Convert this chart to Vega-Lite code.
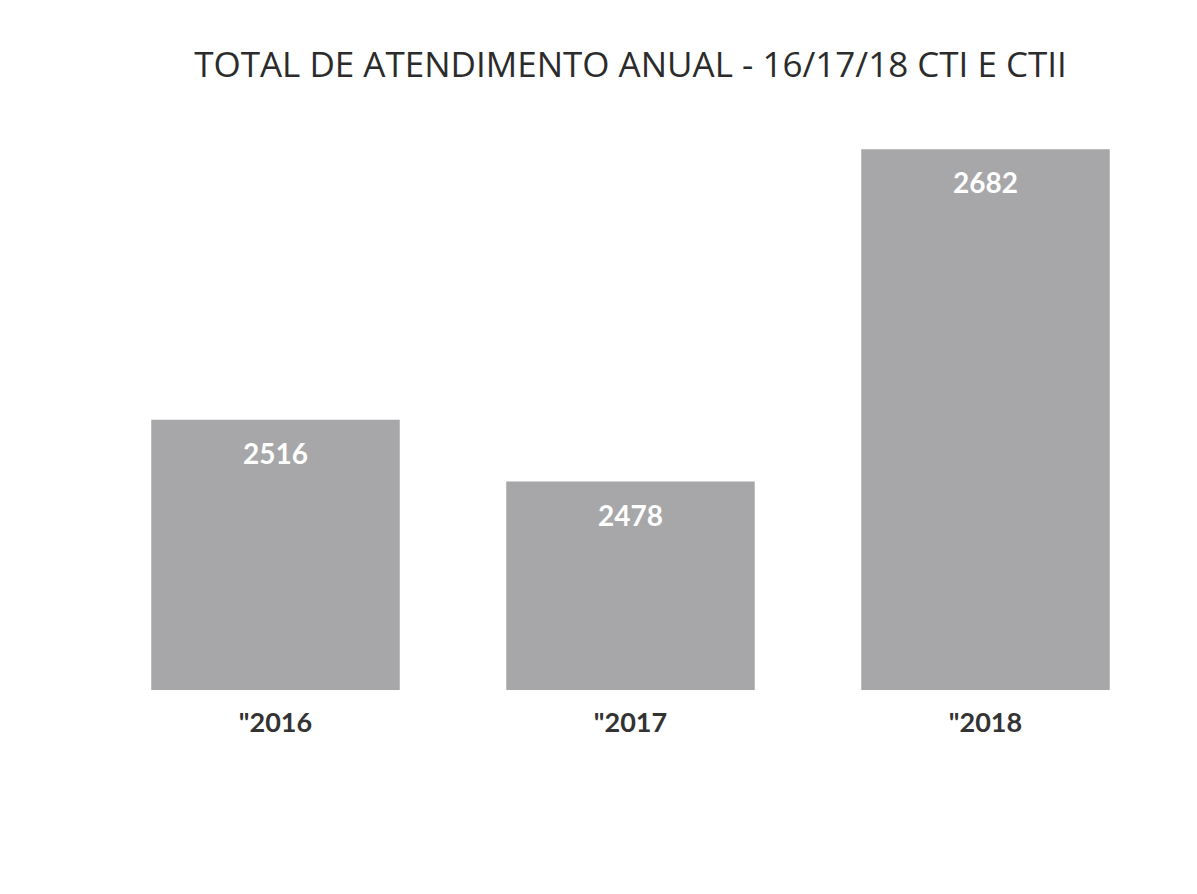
{
  "$schema": "https://vega.github.io/schema/vega-lite/v6.json",
  "autosize": "none",
  "width": 1065,
  "height": 570,
  "padding": {"left": 98, "top": 120, "right": 34, "bottom": 204},
  "background": "white",
  "title": {
    "text": "TOTAL DE ATENDIMENTO ANUAL - 16/17/18 CTI E CTII",
    "fontSize": 35,
    "font": "Open Sans",
    "fontWeight": "normal",
    "color": "#2b2b2b",
    "anchor": "middle",
    "offset": 36
  },
  "config": {"view": {"stroke": null}},
  "data": {
    "values": [
      {"ano": "\"2016", "total": 2516},
      {"ano": "\"2017", "total": 2478},
      {"ano": "\"2018", "total": 2682}
    ]
  },
  "encoding": {
    "x": {
      "field": "ano",
      "type": "nominal",
      "sort": null,
      "scale": {"paddingInner": 0.3, "paddingOuter": 0.15},
      "axis": {
        "title": null,
        "labelAngle": 0,
        "domain": false,
        "ticks": false,
        "labelFont": "Lato",
        "labelFontWeight": "bold",
        "labelFontSize": 27,
        "labelColor": "#333333",
        "labelPadding": 20
      }
    },
    "y": {
      "field": "total",
      "type": "quantitative",
      "scale": {"domain": [2350, 2700], "zero": false, "clamp": true},
      "axis": null
    }
  },
  "layer": [
    {"mark": {"type": "bar", "color": "#a7a7a9"}},
    {
      "mark": {
        "type": "text",
        "color": "white",
        "font": "Lato",
        "fontWeight": "bold",
        "fontSize": 28,
        "baseline": "middle",
        "dy": 36
      },
      "encoding": {"text": {"field": "total", "type": "quantitative", "format": "d"}}
    }
  ]
}
